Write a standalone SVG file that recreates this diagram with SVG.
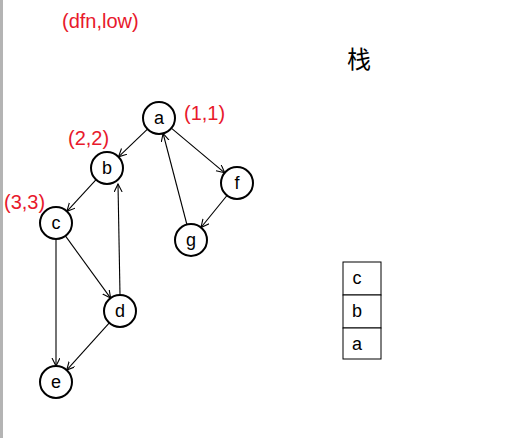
<svg xmlns="http://www.w3.org/2000/svg" width="531" height="438" viewBox="0 0 531 438">
<defs>
<style>
.node circle{fill:#fff;stroke:#000;stroke-width:2}
.node text,.stack text{font-family:"Liberation Sans",Arial,sans-serif;font-size:18px;fill:#000;text-anchor:middle}
.lbl{font-family:"Liberation Sans",Arial,sans-serif;font-size:20px;fill:#e8192c}
.edges line{stroke:#000;stroke-width:1.1;marker-end:url(#arr)}
.stack rect{fill:#fff;stroke:#000;stroke-width:1}
</style>
<marker id="arr" markerUnits="userSpaceOnUse" markerWidth="10" markerHeight="10" refX="8" refY="4" orient="auto">
<path d="M0,0 L8,4 L0,8" fill="none" stroke="#000" stroke-width="1.1"/>
</marker>
</defs>
<rect x="0" y="0" width="531" height="438" fill="#fff"/>
<rect x="0" y="0" width="3" height="438" fill="#b4b4b4"/>
<text class="lbl" x="62" y="28">(dfn,low)</text>
<text x="359" y="68" font-family="'Noto Sans CJK SC',sans-serif" font-size="24" text-anchor="middle">栈</text>
<text class="lbl" x="184" y="120">(1,1)</text>
<text class="lbl" x="68" y="145">(2,2)</text>
<text class="lbl" x="4" y="209">(3,3)</text>
<g class="edges">
<line x1="147.5" y1="129.1" x2="118.5" y2="156.9"/>
<line x1="171.3" y1="128.2" x2="224.7" y2="172.8"/>
<line x1="96.1" y1="179.7" x2="66.9" y2="211.3"/>
<line x1="65.4" y1="235.9" x2="110.6" y2="298.1"/>
<line x1="56" y1="239" x2="56" y2="366"/>
<line x1="120" y1="295" x2="118" y2="184"/>
<line x1="109.3" y1="322.9" x2="66.7" y2="370.1"/>
<line x1="227" y1="195.5" x2="201" y2="227.5"/>
<line x1="186.9" y1="224.5" x2="163.1" y2="133.5"/>
</g>
<g id="node-a" class="node"><circle cx="159" cy="118" r="16"/><text x="159" y="124">a</text></g>
<g id="node-b" class="node"><circle cx="107" cy="168" r="16"/><text x="107" y="174">b</text></g>
<g id="node-c" class="node"><circle cx="56" cy="223" r="16"/><text x="56" y="229">c</text></g>
<g id="node-d" class="node"><circle cx="120" cy="311" r="16"/><text x="120" y="317">d</text></g>
<g id="node-e" class="node"><circle cx="56" cy="382" r="16"/><text x="56" y="388">e</text></g>
<g id="node-f" class="node"><circle cx="237" cy="183" r="16"/><text x="237" y="189">f</text></g>
<g id="node-g" class="node"><circle cx="191" cy="240" r="16"/><text x="191" y="246">g</text></g>
<g id="stack" class="stack">
<rect x="343" y="262" width="38" height="33"/><text x="357" y="284">c</text>
<rect x="343" y="295" width="38" height="33"/><text x="357" y="317">b</text>
<rect x="343" y="328" width="38" height="31"/><text x="357" y="350">a</text>
</g>
</svg>
